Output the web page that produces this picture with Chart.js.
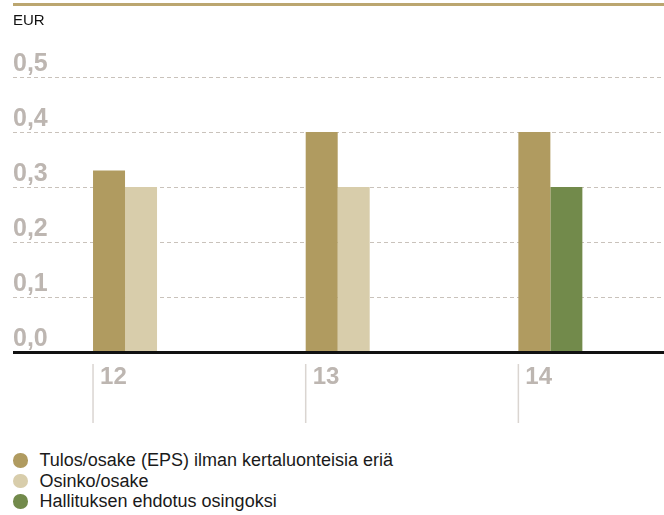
<!DOCTYPE html>
<html>
<head>
<meta charset="utf-8">
<script src="https://cdn.jsdelivr.net/npm/chart.js@4/dist/chart.umd.min.js"></script>
<style>
  body { margin: 0; background: #fff; font-family: "Liberation Sans", Arial, sans-serif; }
  #wrap { position: absolute; left: 0; top: 0; width: 664px; height: 430px; }
  #legend { position: absolute; left: 13px; top: 450px; font-size: 18px; color: #1a1a1a; }
  .row { height: 20.7px; line-height: 20.7px; display: flex; align-items: center; }
  .dot { width: 14.5px; height: 14.5px; border-radius: 50%; margin-right: 12px; }
</style>
</head>
<body>
<div id="wrap"><canvas id="grafico"></canvas></div>
<div id="legend"></div>
<script>
// datos
const vuodet = ['12', '13', '14'];
const eps = [0.33, 0.40, 0.40];
const osinko = [0.30, 0.30, null];
const ehdotus = [null, null, 0.30];
const yTicks = [0, 0.1, 0.2, 0.3, 0.4, 0.5];

const sarjat = [
  { label: 'Tulos/osake (EPS) ilman kertaluonteisia eriä', data: eps, color: '#b09b60' },
  { label: 'Osinko/osake', data: osinko, color: '#d8cdab' },
  { label: 'Hallituksen ehdotus osingoksi', data: ehdotus, color: '#728a4b' },
];

const LEFT = 13, RIGHT = 664;

const extras = {
  id: 'extras',
  beforeDatasetsDraw(chart) {
    const ctx = chart.ctx;
    const y = chart.scales.y;
    ctx.save();
    ctx.strokeStyle = '#c9c2bb';
    ctx.lineWidth = 1;
    ctx.setLineDash([4, 3]);
    yTicks.forEach(v => {
      if (v === 0) return;
      const py = Math.round(y.getPixelForValue(v)) + 0.5;
      ctx.beginPath();
      ctx.moveTo(LEFT, py);
      ctx.lineTo(RIGHT, py);
      ctx.stroke();
    });
    ctx.restore();
  },
  afterDraw(chart) {
    const ctx = chart.ctx;
    const y = chart.scales.y;
    ctx.save();
    // linea superior
    ctx.fillStyle = '#bba670';
    ctx.fillRect(LEFT, 3, RIGHT - LEFT, 3);
    // EUR
    ctx.fillStyle = '#111';
    ctx.font = '15px "Liberation Sans", Arial, sans-serif';
    ctx.textBaseline = 'alphabetic';
    ctx.fillText('EUR', LEFT, 25);
    // eje x
    const y0 = y.getPixelForValue(0);
    ctx.strokeStyle = '#111';
    ctx.lineWidth = 3;
    ctx.beginPath();
    ctx.moveTo(LEFT, y0 + 0.5);
    ctx.lineTo(RIGHT, y0 + 0.5);
    ctx.stroke();
    // lineas verticales bajo las etiquetas
    const meta = chart.getDatasetMeta(0);
    ctx.strokeStyle = '#dad5d1';
    ctx.lineWidth = 1.5;
    meta.data.forEach(bar => {
      const px = bar.x - bar.width / 2;
      ctx.beginPath();
      ctx.moveTo(px, 364);
      ctx.lineTo(px, 423);
      ctx.stroke();
    });
    ctx.restore();
  }
};

new Chart(document.getElementById('grafico'), {
  type: 'bar',
  data: {
    labels: vuodet,
    datasets: sarjat.map(s => ({
      label: s.label,
      data: s.data,
      backgroundColor: s.color,
      borderWidth: 0,
    })),
  },
  options: {
    responsive: true,
    maintainAspectRatio: false,
    animation: false,
    skipNull: true,
    categoryPercentage: 64 / 212.65,
    barPercentage: 1,
    layout: { padding: { left: 18.7, right: 7.3, top: 77, bottom: 0 } },
    plugins: { legend: { display: false }, tooltip: { enabled: false } },
    scales: {
      x: {
        grid: { display: false, drawTicks: false },
        border: { display: false },
        ticks: {
          align: 'start',
          labelOffset: -25,
          padding: 11,
          color: '#bdb6b1',
          font: { family: '"Liberation Sans", Arial, sans-serif', size: 24, weight: 'bold' },
        },
        afterFit(scale) {
          scale.height = 78;
          scale.paddingLeft = 0;
          scale.paddingRight = 0;
        },
      },
      y: {
        min: 0,
        max: 0.5,
        grid: { display: false, drawTicks: false },
        border: { display: false },
        afterBuildTicks(scale) {
          scale.ticks = yTicks.map(v => ({ value: v }));
        },
        ticks: {
          mirror: true,
          padding: -5.7,
          labelOffset: -12.5,
          color: '#bdb6b1',
          font: { family: '"Liberation Sans", Arial, sans-serif', size: 25, weight: 'bold' },
          callback: v => v.toFixed(1).replace('.', ','),
        },
        afterFit(scale) {
          scale.width = 0;
          scale.paddingTop = 0;
          scale.paddingBottom = 0;
        },
      },
    },
  },
  plugins: [extras],
});

const legend = document.getElementById('legend');
sarjat.forEach(s => {
  const row = document.createElement('div');
  row.className = 'row';
  row.innerHTML = '<span class="dot" style="background:' + s.color + '"></span><span>' + s.label + '</span>';
  legend.appendChild(row);
});
</script>
</body>
</html>
